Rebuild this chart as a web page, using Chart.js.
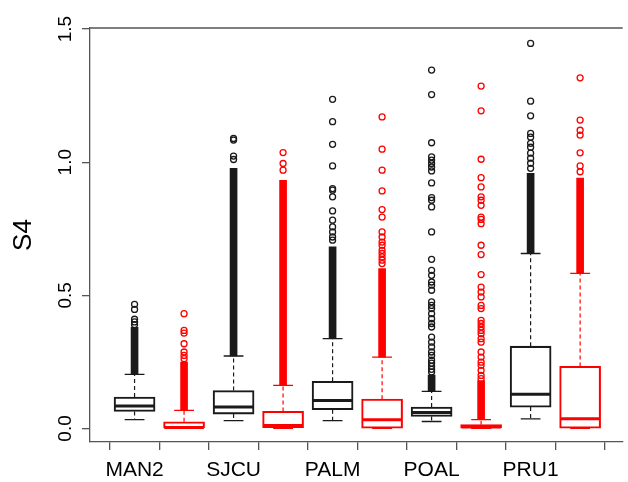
<!DOCTYPE html>
<html>
<head>
<meta charset="utf-8">
<script src="https://cdn.jsdelivr.net/npm/chart.js@4/dist/chart.umd.min.js"></script>
<style>
    body { margin: 0; background: #fff; }
    #wrap { width: 628px; height: 482px; }
</style>
</head>
<body>
<div id="wrap"><canvas id="s4Chart" width="628" height="482"></canvas></div>
<script>
// Station names, one label under each pair of boxes
const categories = ['MAN2', 'SJCU', 'PALM', 'POAL', 'PRU1'];

// Box statistics, 10 boxes in plot order (black, red, black, red, ...)
const lowerWhisker = [0.033, 0.000, 0.029, 0.000, 0.029, 0.000, 0.026, 0.000, 0.036, 0.000];
const lowerQuartile = [0.064, 0.000, 0.054, 0.000, 0.070, 0.001, 0.045, 0.000, 0.080, 0.001];
const medians = [0.084, 0.003, 0.080, 0.011, 0.105, 0.033, 0.060, 0.005, 0.128, 0.036];
const upperQuartile = [0.118, 0.025, 0.142, 0.064, 0.177, 0.110, 0.080, 0.014, 0.309, 0.233];
const upperWhisker = [0.203, 0.068, 0.272, 0.162, 0.337, 0.268, 0.139, 0.033, 0.657, 0.582];

// Ranges where the outlier circles overlap into a solid column
const outlierBands = [
    [0.203, 0.380], [0.068, 0.249], [0.272, 0.977], [0.162, 0.932], [0.337, 0.682],
    [0.268, 0.600], [0.139, 0.200], [0.033, 0.180], [0.657, 0.958], [0.582, 0.940]
];

// Separate outlier circles above the solid columns
const outliers = [
    [0.390, 0.400, 0.410, 0.447, 0.466],
    [0.262, 0.274, 0.287, 0.318, 0.358, 0.368, 0.431],
    [1.010, 1.023, 1.083, 1.089],
    [0.970, 0.995, 1.036],
    [0.707, 0.719, 0.738, 0.757, 0.782, 0.817, 0.870, 0.895, 0.901, 0.986, 1.067, 1.152, 1.236],
    [0.619, 0.632, 0.644, 0.657, 0.669, 0.688, 0.700, 0.719, 0.738, 0.794, 0.822, 0.892, 0.970, 1.049, 1.170],
    [0.212, 0.222, 0.233, 0.245, 0.256, 0.274, 0.287, 0.306, 0.324, 0.343, 0.381, 0.394, 0.412, 0.431,
     0.450, 0.462, 0.475, 0.519, 0.538, 0.550, 0.575, 0.594, 0.635, 0.738, 0.832, 0.857, 0.867, 0.922,
     0.967, 0.982, 0.995, 1.008, 1.020, 1.073, 1.254, 1.346],
    [0.187, 0.199, 0.218, 0.237, 0.249, 0.268, 0.287, 0.324, 0.337, 0.356, 0.368, 0.381, 0.394, 0.406,
     0.450, 0.462, 0.494, 0.512, 0.531, 0.578, 0.653, 0.688, 0.769, 0.785, 0.794, 0.838, 0.857, 0.870,
     0.907, 0.942, 1.011, 1.193, 1.286],
    [0.977, 0.996, 1.015, 1.034, 1.056, 1.071, 1.094, 1.108, 1.174, 1.229, 1.446],
    [0.964, 0.986, 1.035, 1.102, 1.120, 1.158, 1.317]
];

const yTicks = [0.0, 0.5, 1.0, 1.5];
const seriesColors = ['#1a1a1a', '#ff0000'];

const boxHalf = 0.4;   // boxwex 0.8
const capHalf = 0.2;   // staple half width
const fontFamily = "'Liberation Sans', Arial, sans-serif";

document.addEventListener('DOMContentLoaded', function () {
    const ctx = document.getElementById('s4Chart').getContext('2d');
    const colorOf = i => seriesColors[i % 2];
    const gap = x => ({ x: x, y: null });

    // whiskers, staples, medians and outliers, one set per colour
    const lineSets = [];
    seriesColors.forEach((color, s) => {
        const whiskers = [], caps = [], meds = [], points = [];
        medians.forEach((m, i) => {
            if (i % 2 !== s) return;
            const x = i + 1;
            whiskers.push({ x: x, y: upperQuartile[i] }, { x: x, y: upperWhisker[i] }, gap(x),
                          { x: x, y: lowerQuartile[i] }, { x: x, y: lowerWhisker[i] }, gap(x));
            caps.push({ x: x - capHalf, y: upperWhisker[i] }, { x: x + capHalf, y: upperWhisker[i] }, gap(x),
                      { x: x - capHalf, y: lowerWhisker[i] }, { x: x + capHalf, y: lowerWhisker[i] }, gap(x));
            meds.push({ x: x - boxHalf, y: m }, { x: x + boxHalf, y: m }, gap(x));
            outliers[i].forEach(v => points.push({ x: x, y: v }));
        });
        lineSets.push(
            { type: 'line', data: whiskers, borderColor: color, borderWidth: 1.2, borderDash: [4, 3], pointRadius: 0, spanGaps: false },
            { type: 'line', data: caps, borderColor: color, borderWidth: 1.3, pointRadius: 0, spanGaps: false },
            { type: 'line', data: meds, borderColor: color, borderWidth: 3, pointRadius: 0, spanGaps: false },
            { type: 'scatter', data: points, borderColor: color, backgroundColor: 'rgba(0,0,0,0)', pointRadius: 3, borderWidth: 1.3 }
        );
    });

    // top edge of the plot frame
    const framePlugin = {
        id: 'frame',
        afterDraw(chart) {
            const a = chart.chartArea;
            const c = chart.ctx;
            c.save();
            c.strokeStyle = '#555';
            c.lineWidth = 1.3;
            c.beginPath();
            c.moveTo(a.left, a.top);
            c.lineTo(a.right, a.top);
            c.stroke();
            c.restore();
        }
    };

    new Chart(ctx, {
        type: 'bar',
        data: {
            datasets: [
                {
                    // boxes from lower to upper quartile
                    data: medians.map((m, i) => ({ x: i + 1, y: [lowerQuartile[i], upperQuartile[i]] })),
                    backgroundColor: 'rgba(255,255,255,0)',
                    borderColor: medians.map((m, i) => colorOf(i)),
                    borderWidth: 1.4,
                    borderSkipped: false,
                    barThickness: 41,
                    grouped: false
                },
                {
                    // dense outlier columns
                    data: outlierBands.map((b, i) => ({ x: i + 1, y: b })),
                    backgroundColor: outlierBands.map((b, i) => colorOf(i)),
                    borderWidth: 0,
                    barThickness: 7,
                    grouped: false
                },
                ...lineSets
            ]
        },
        options: {
            responsive: false,
            animation: false,
            layout: { padding: { top: 28, left: 0, right: 0, bottom: 0 } },
            scales: {
                x: {
                    type: 'linear',
                    min: 0.1,
                    max: 10.86,
                    offset: false,
                    afterBuildTicks: scale => {
                        scale.ticks = medians.map((m, i) => ({ value: i + 1 }));
                    },
                    afterFit: scale => { scale.height = 40; },
                    grid: { drawOnChartArea: false, tickLength: 8, color: '#555', lineWidth: 1.3 },
                    border: { display: true, color: '#555', width: 1.3 },
                    ticks: {
                        autoSkip: false,
                        maxRotation: 0,
                        padding: 8,
                        color: '#000',
                        font: { family: fontFamily, size: 21 },
                        callback: value => (value % 2 === 1 ? categories[(value - 1) / 2] : '')
                    }
                },
                y: {
                    min: -0.051,
                    max: 1.504,
                    afterBuildTicks: scale => {
                        scale.ticks = yTicks.map(v => ({ value: v }));
                    },
                    afterFit: scale => { scale.width = 90; },
                    grid: { drawOnChartArea: false, tickLength: 8, color: '#555', lineWidth: 1.3 },
                    border: { display: true, color: '#555', width: 1.3 },
                    ticks: {
                        minRotation: 90,
                        maxRotation: 90,
                        crossAlign: 'center',
                        padding: 3,
                        color: '#000',
                        font: { family: fontFamily, size: 19 },
                        callback: value => value.toFixed(1)
                    },
                    title: {
                        display: true,
                        text: 'S4',
                        color: '#000',
                        padding: { top: 8, bottom: 0 },
                        font: { family: fontFamily, size: 26 }
                    }
                }
            },
            plugins: {
                legend: { display: false },
                tooltip: { enabled: false }
            }
        },
        plugins: [framePlugin]
    });
});
</script>
</body>
</html>
